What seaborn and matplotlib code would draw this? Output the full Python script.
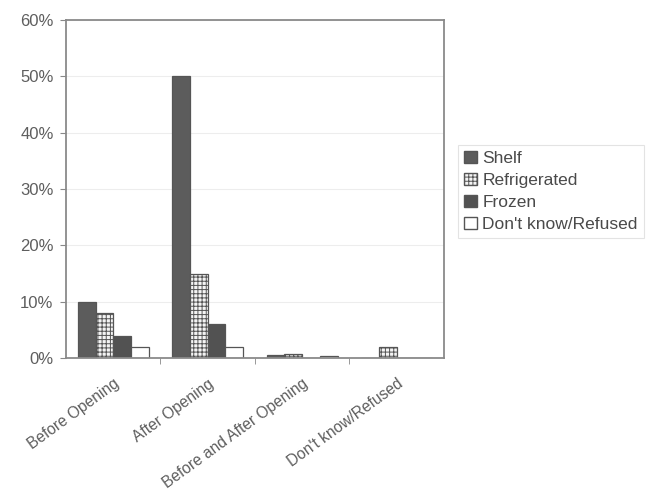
import numpy as np
import pandas as pd
import matplotlib
matplotlib.use("Agg")
import matplotlib.pyplot as plt
import matplotlib.transforms as mtransforms
import seaborn as sns
from matplotlib.patches import Patch

categories = ["Before Opening", "After Opening", "Before and After Opening", "Don't know/Refused"]
storage = ["Shelf", "Refrigerated", "Frozen", "Don't know/Refused"]
shelf = [10, 50, 0.5, 0]
refrigerated = [8, 15, 0.8, 2]
frozen = [4, 6, 0, 0]
dont_know = [2, 2, 0.3, 0]
y_ticks = [0, 10, 20, 30, 40, 50, 60]

sns.set_style("white")
plt.rcParams["font.family"] = ["Liberation Sans", "DejaVu Sans"]
plt.rcParams["hatch.color"] = "#8f8f8f"
plt.rcParams["hatch.linewidth"] = 0.7

rows = []
for series, vals in zip(storage, [shelf, refrigerated, frozen, dont_know]):
    for cat, v in zip(categories, vals):
        rows.append({"When": cat, "Storage": series, "Pct": v})
df = pd.DataFrame(rows)

fills = {"Shelf": "#5c5c5c", "Refrigerated": "#f4f4f4", "Frozen": "#525252", "Don't know/Refused": "#ffffff"}
hatches = {"Shelf": "", "Refrigerated": "++++", "Frozen": "", "Don't know/Refused": ""}

fig = plt.figure(figsize=(6.57, 4.98), dpi=100)
ax = fig.add_axes([0.1005, 0.281, 0.575, 0.679])

sns.barplot(data=df, x="When", y="Pct", hue="Storage", order=categories,
            hue_order=storage, palette=fills, width=0.75, gap=0,
            edgecolor="#555555", linewidth=0.9, ax=ax, legend=False)

for container, series in zip(ax.containers, storage):
    for bar in container:
        bar.set_hatch(hatches[series])

ax.set_ylim(0, 60)
ax.set_xlim(-0.5, len(categories) - 0.5)
ax.set_yticks(y_ticks)
ax.set_yticklabels([f"{t}%" for t in y_ticks], fontsize=12, color="#5e5e5e")
ax.set_xticks(range(len(categories)))
ax.set_xticklabels(categories, rotation=36, ha="right", rotation_mode="anchor",
                   fontsize=11.2, color="#5e5e5e")
shift = mtransforms.ScaledTranslation(-7 / 100, 0, fig.dpi_scale_trans)
for lbl in ax.get_xticklabels():
    lbl.set_transform(lbl.get_transform() + shift)
ax.tick_params(axis="x", which="major", length=0, pad=13)
ax.set_xticks(np.arange(0.5, len(categories) - 0.5, 1.0), minor=True)
ax.tick_params(axis="x", which="minor", length=4, color="#888888", direction="out", bottom=True)
ax.tick_params(axis="y", length=4, color="#888888", direction="out", left=True, pad=5)

ax.set_xlabel("")
ax.set_ylabel("")
ax.yaxis.grid(True, color="#ededed", linewidth=0.8)
ax.set_axisbelow(True)
for side in ax.spines.values():
    side.set_visible(True)
    side.set_color("#8a8a8a")
    side.set_linewidth(1.3)

handles = [Patch(facecolor=fills[s], edgecolor="#555555", hatch=hatches[s], label=s) for s in storage]
leg = fig.legend(handles=handles, loc="upper left", bbox_to_anchor=(0.684, 0.727),
                 frameon=True, fontsize=12.5, handlelength=0.75, handleheight=0.75,
                 handletextpad=0.3, labelspacing=0.38, borderpad=0.35, fancybox=False,
                 labelcolor="#4a4a4a")
leg.get_frame().set_edgecolor("#dddddd")
leg.get_frame().set_linewidth(0.8)

fig.savefig("out.png", dpi=100, facecolor="white")
